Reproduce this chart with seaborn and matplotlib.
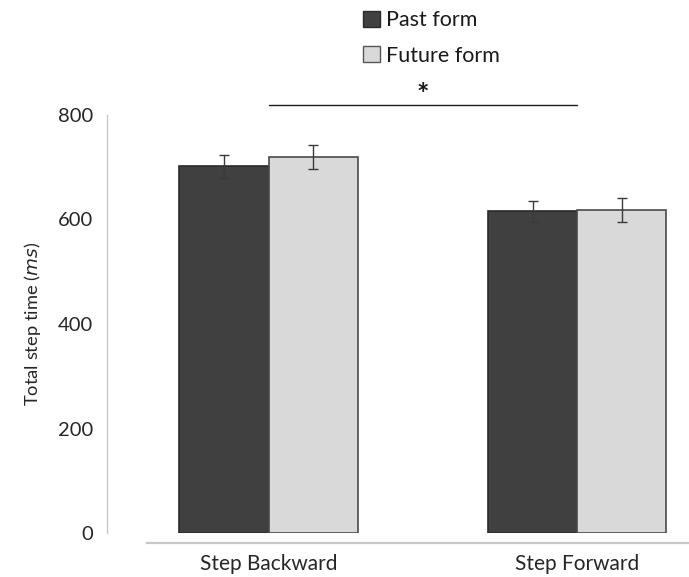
import matplotlib
matplotlib.use("Agg")
import matplotlib.pyplot as plt
from matplotlib.patches import Patch
import seaborn as sns
import pandas as pd

# Mean total step time (ms) and error bars per movement direction and verb form
categories = ["Step Backward", "Step Forward"]
forms = ["Past form", "Future form"]
past_means = [702, 616]
future_means = [720, 619]
past_err = [22, 20]
future_err = [23, 23]
y_ticks = [0, 200, 400, 600, 800]

dark = "#404040"
light = "#d9d9d9"

sns.set_style("white")
plt.rcParams["font.family"] = ["Lato", "DejaVu Sans"]
plt.rcParams["text.color"] = "#1a1a1a"

df = pd.DataFrame({
    "movement": categories * 2,
    "form": [forms[0]] * len(categories) + [forms[1]] * len(categories),
    "time": past_means + future_means,
})

fig = plt.figure(figsize=(6.89, 5.77), dpi=100)
ax = fig.add_axes([107 / 689, 44 / 577, 582 / 689, 418 / 577])

sns.barplot(data=df, x="movement", y="time", hue="form", hue_order=forms,
            order=categories, palette=[dark, light], width=0.577,
            errorbar=None, linewidth=1.2, legend=False, ax=ax)

edge_colors = ["#2a2a2a", "#4a4a4a"]
errors = [past_err, future_err]
for container, ec, errs in zip(ax.containers, edge_colors, errors):
    for bar, err in zip(container, errs):
        bar.set_edgecolor(ec)
        cx = bar.get_x() + bar.get_width() / 2
        ax.errorbar(cx, bar.get_height(), yerr=err, fmt="none",
                    ecolor="#3a3a3a", elinewidth=1.0, capsize=3.5,
                    capthick=1.0, zorder=5)

ax.set_ylim(0, 800)
ax.set_xlim(-0.5235, 1.363)
ax.set_yticks(y_ticks)
ax.set_ylabel("Total step time ($\\it{ms}$)", fontsize=13.2, labelpad=11)
ax.set_xlabel("")

for s in ["top", "right"]:
    ax.spines[s].set_visible(False)
ax.spines["left"].set_color("#c8c8c8")
ax.spines["left"].set_linewidth(1.0)
ax.spines["bottom"].set_color("#c8c8c8")
ax.spines["bottom"].set_linewidth(1.6)
ax.spines["bottom"].set_position(("outward", 7.2))
ax.spines["bottom"].set_bounds(-0.394, 1.363)

ax.tick_params(axis="y", direction="in", length=4.3, width=1.0,
               color="#c8c8c8", labelsize=14.5, pad=10)
ax.tick_params(axis="x", length=0, labelsize=15, pad=8)

# Significance bracket between the two movement directions
ax.plot([0, 1], [819, 819], color="#1a1a1a", lw=1.0, clip_on=False)
ax.text(0.5, 838, "*", ha="center", va="center", fontsize=21,
        fontweight="bold")

handles = [Patch(facecolor=dark, edgecolor="#2a2a2a"),
           Patch(facecolor=light, edgecolor="#555555")]
fig.legend(handles, forms, loc="upper left",
           bbox_to_anchor=(344 / 689, 1.016), frameon=False, fontsize=15.5,
           handlelength=0.75, handleheight=0.75, handletextpad=0.3,
           labelspacing=0.72)

fig.savefig("out.png", dpi=100)
